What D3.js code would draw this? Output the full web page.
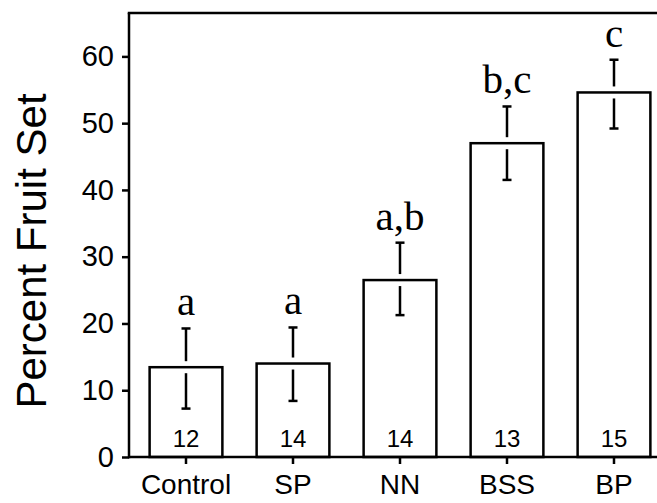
<!DOCTYPE html>
<html><head><meta charset="utf-8">
<script src="https://cdn.jsdelivr.net/npm/d3@7"></script>
<style>body{margin:0;background:#fff;} svg{display:block;}</style>
</head><body>
<svg id="chart" width="657" height="503"></svg>
<script>
const categories = ["Control", "SP", "NN", "BSS", "BP"];
const means = [13.45, 14.0, 26.5, 47.0, 54.6];
const upper = [19.25, 19.4, 32.1, 52.5, 59.5];
const lower = [7.25, 8.4, 21.25, 41.5, 49.2];
const sigLetters = ["a", "a", "a,b", "b,c", "c"];
const sampleSizes = ["12", "14", "14", "13", "15"];
const yTicks = [0, 10, 20, 30, 40, 50, 60];

const svg = d3.select("#chart");
const pLeft = 129, pRight = 657, pTop = 13, pBottom = 457;
const y = d3.scaleLinear().domain([0, 66.5]).range([pBottom, pTop]);
const x = d3.scaleBand().domain(categories).range([132.5, 667.5]).paddingInner(0.32).paddingOuter(0.16);
const sans = "'Liberation Sans', Arial, Helvetica, sans-serif";
const serif = "'Liberation Serif', 'Times New Roman', serif";
const sw = 2.5;

// bars
svg.selectAll("rect.bar").data(categories).join("rect")
  .attr("class", "bar")
  .attr("x", d => x(d)).attr("width", x.bandwidth())
  .attr("y", (d,i) => y(means[i])).attr("height", (d,i) => pBottom - y(means[i]))
  .attr("fill", "#fff").attr("stroke", "#000").attr("stroke-width", sw);

// error bars (broken around bar top)
const gap = 6, capW = 9;
categories.forEach((c, i) => {
  const cx = x(c) + x.bandwidth() / 2;
  const yt = y(means[i]);
  const g = svg.append("g").attr("stroke", "#000").attr("stroke-width", sw);
  g.append("line").attr("x1", cx).attr("x2", cx).attr("y1", y(upper[i])).attr("y2", yt - gap);
  g.append("line").attr("x1", cx).attr("x2", cx).attr("y1", yt + gap).attr("y2", y(lower[i]));
  g.append("line").attr("x1", cx - capW/2).attr("x2", cx + capW/2).attr("y1", y(upper[i])).attr("y2", y(upper[i]));
  g.append("line").attr("x1", cx - capW/2).attr("x2", cx + capW/2).attr("y1", y(lower[i])).attr("y2", y(lower[i]));
  svg.append("text").attr("x", cx).attr("y", y(upper[i]) - 13)
    .attr("text-anchor", "middle").attr("font-family", serif).attr("font-size", 41)
    .text(sigLetters[i]);
  svg.append("text").attr("x", cx).attr("y", 447)
    .attr("text-anchor", "middle").attr("font-family", sans).attr("font-size", 24)
    .text(sampleSizes[i]);
});

// axes
const yAxis = d3.axisLeft(y).tickValues(yTicks).tickSize(7).tickPadding(8).tickSizeOuter(0);
const gy = svg.append("g").attr("transform", `translate(${pLeft},0)`).call(yAxis);
gy.select(".domain").remove();
gy.selectAll(".tick line").attr("stroke-width", sw);
gy.selectAll(".tick text").attr("font-family", sans).attr("font-size", 29).attr("fill", "#000");

const xAxis = d3.axisBottom(x).tickSize(7).tickPadding(10).tickSizeOuter(0);
const gx = svg.append("g").attr("transform", `translate(0,${pBottom})`).call(xAxis);
gx.select(".domain").remove();
gx.selectAll(".tick line").attr("stroke-width", sw);
gx.selectAll(".tick text").attr("font-family", sans).attr("font-size", 28).attr("fill", "#000");

// frame lines: left, bottom, top
svg.append("line").attr("x1", pLeft).attr("x2", pLeft).attr("y1", pTop).attr("y2", pBottom + sw/2)
  .attr("stroke", "#000").attr("stroke-width", sw);
svg.append("line").attr("x1", pLeft).attr("x2", pRight).attr("y1", pBottom).attr("y2", pBottom)
  .attr("stroke", "#000").attr("stroke-width", sw);
svg.append("line").attr("x1", pLeft - sw/2).attr("x2", pRight).attr("y1", pTop).attr("y2", pTop)
  .attr("stroke", "#000").attr("stroke-width", sw);

// y title
svg.append("text").attr("transform", `translate(46,251) rotate(-90)`)
  .attr("text-anchor", "middle").attr("font-family", sans).attr("font-size", 42)
  .text("Percent Fruit Set");
</script>
</body></html>
